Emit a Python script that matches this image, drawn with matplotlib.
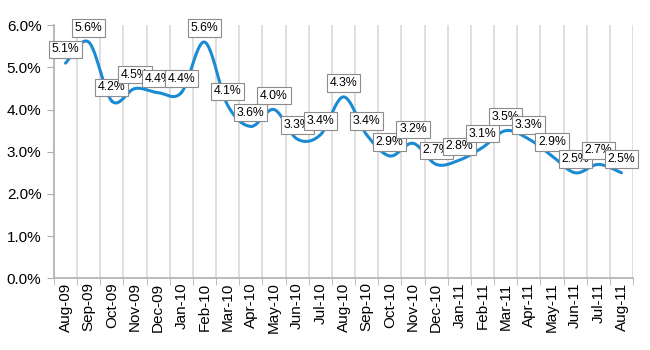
import numpy as np
import matplotlib.pyplot as plt

plt.rcParams['font.family'] = ['Liberation Sans', 'DejaVu Sans']

# monthly values (%)
months = ["Aug-09", "Sep-09", "Oct-09", "Nov-09", "Dec-09", "Jan-10", "Feb-10",
          "Mar-10", "Apr-10", "May-10", "Jun-10", "Jul-10", "Aug-10", "Sep-10",
          "Oct-10", "Nov-10", "Dec-10", "Jan-11", "Feb-11", "Mar-11", "Apr-11",
          "May-11", "Jun-11", "Jul-11", "Aug-11"]
values = [5.1, 5.6, 4.2, 4.5, 4.4, 4.4, 5.6, 4.1, 3.6, 4.0, 3.3, 3.4, 4.3,
          3.4, 2.9, 3.2, 2.7, 2.8, 3.1, 3.5, 3.3, 2.9, 2.5, 2.7, 2.5]


def smooth(x, y, steps=30):
    # catmull-rom curve through the points, like Excel's smoothed line
    x = np.asarray(x, float)
    y = np.asarray(y, float)
    px = np.concatenate([[x[0]], x, [x[-1]]])
    py = np.concatenate([[y[0]], y, [y[-1]]])
    xs, ys = [], []
    t = np.linspace(0, 1, steps)
    for i in range(1, len(px) - 2):
        for p, out in ((px, xs), (py, ys)):
            p0, p1, p2, p3 = p[i - 1], p[i], p[i + 1], p[i + 2]
            out.extend(0.5 * (2 * p1 + (-p0 + p2) * t
                              + (2 * p0 - 5 * p1 + 4 * p2 - p3) * t ** 2
                              + (-p0 + 3 * p1 - 3 * p2 + p3) * t ** 3))
    return np.array(xs), np.array(ys)


x = np.arange(len(months))
sx, sy = smooth(x, values)

fig, ax = plt.subplots(figsize=(6.5, 3.5), dpi=100)
fig.subplots_adjust(left=0.083, right=0.974, top=0.928, bottom=0.205)

ax.plot(sx, sy, color="#1a8ad4", lw=2.2, solid_capstyle="round", zorder=3)

for xi, v in zip(x, values):
    ax.annotate(f"{v:.1f}%", (xi, v), xytext=(0, 10), textcoords="offset points",
                ha="center", va="center", fontsize=8.8, zorder=4,
                bbox=dict(boxstyle="square,pad=0.22", fc="white", ec="#8c8c8c", lw=0.8))

ax.set_xlim(-0.5, len(months) - 0.5)
ax.set_ylim(0, 6)
ax.set_yticks(np.arange(0, 7, 1))
ax.set_yticklabels([f"{t:.1f}%" for t in range(7)], fontsize=11)

ax.set_xticks(x)
ax.set_xticklabels(months, rotation=90, fontsize=11)
ax.tick_params(axis="x", length=0, pad=3)
ax.set_xticks(np.arange(-0.5, len(months), 1), minor=True)
ax.tick_params(axis="x", which="minor", length=5, color="#b0b0b0")
ax.tick_params(axis="y", length=5, color="#b0b0b0", pad=4)
ax.grid(axis="x", which="minor", color="#d9d9d9", lw=1.2)

for s in ("top", "right"):
    ax.spines[s].set_visible(False)
for s in ("left", "bottom"):
    ax.spines[s].set_color("#b0b0b0")
    ax.spines[s].set_linewidth(1.2)

fig.savefig("out.png", dpi=100)
